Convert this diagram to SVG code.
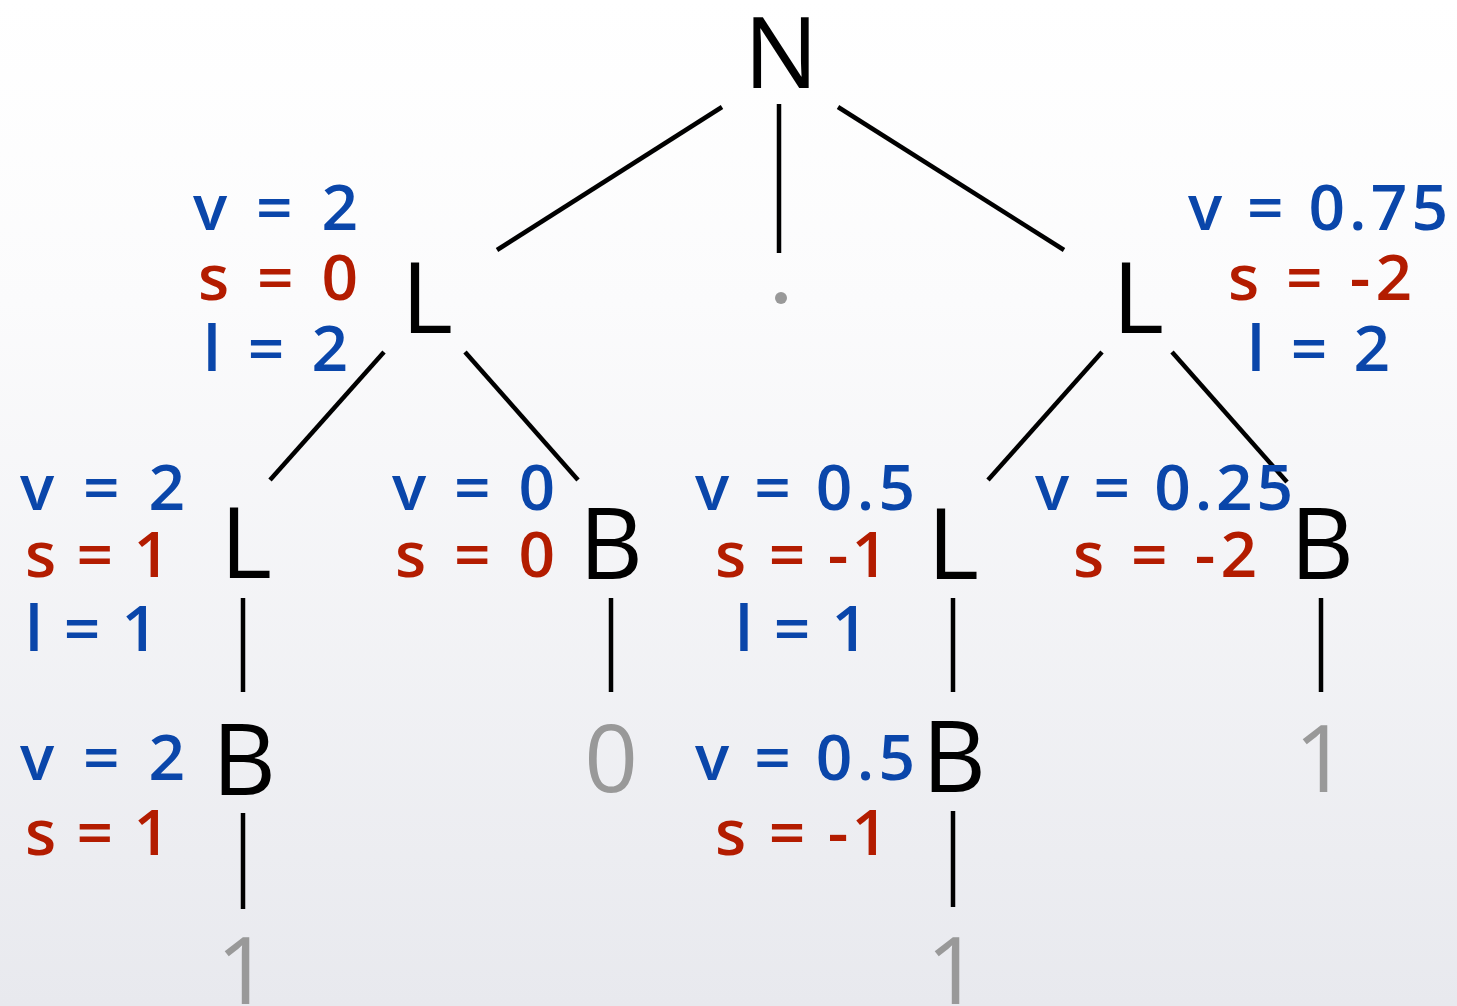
<svg xmlns="http://www.w3.org/2000/svg" width="1457" height="1006" viewBox="0 0 1457 1006">
<style>
text{font-family:"Open Sans","Lato","Liberation Sans",sans-serif;}
.n{font-size:99px;fill:#000;text-anchor:middle;}
.g{font-size:94px;fill:#999;text-anchor:middle;}
.v{font-size:64px;fill:#0a46aa;font-weight:600;}
.s{font-size:64px;fill:#b31c00;font-weight:600;}
.c line{stroke:#000;stroke-width:4.5;stroke-linecap:butt;}
</style>
<defs>
<linearGradient id="bg" x1="0" y1="0" x2="0" y2="1">
<stop offset="0" stop-color="#ffffff"/>
<stop offset="0.3" stop-color="#fbfbfc"/>
<stop offset="1" stop-color="#e8e9ee"/>
</linearGradient>
</defs>
<rect width="1457" height="1006" fill="url(#bg)"/>
<g id="connectors" class="c">
<line x1="722" y1="107" x2="497" y2="250"/>
<line x1="779" y1="104" x2="779" y2="253"/>
<line x1="838" y1="107" x2="1064" y2="250"/>
<line x1="384" y1="352" x2="270" y2="480"/>
<line x1="465" y1="352" x2="578" y2="480"/>
<line x1="1102" y1="352" x2="988" y2="480"/>
<line x1="1172" y1="352" x2="1287" y2="482"/>
<line x1="243" y1="598" x2="243" y2="692"/>
<line x1="611" y1="598" x2="611" y2="692"/>
<line x1="953" y1="598" x2="953" y2="692"/>
<line x1="1321" y1="598" x2="1321" y2="692"/>
<line x1="243" y1="813" x2="243" y2="909"/>
<line x1="953" y1="811" x2="953" y2="907"/>
</g>
<g id="node-N"><text class="n" x="781" y="88">N</text></g>
<g id="node-dot"><circle cx="781" cy="298" r="6" fill="#999"/></g>
<g id="node-L1">
<text class="n" x="427" y="333">L</text>
<text class="v" x="193" y="230" textLength="165" lengthAdjust="spacing">v = 2</text>
<text class="s" x="198" y="300" textLength="160" lengthAdjust="spacing">s = 0</text>
<text class="v" x="203" y="371" textLength="145" lengthAdjust="spacing">l = 2</text>
</g>
<g id="node-L2">
<text class="n" x="1138" y="333">L</text>
<text class="v" x="1188" y="230" textLength="260" lengthAdjust="spacing">v = 0.75</text>
<text class="s" x="1228" y="300" textLength="184" lengthAdjust="spacing">s = -2</text>
<text class="v" x="1247" y="371" textLength="143" lengthAdjust="spacing">l = 2</text>
</g>
<g id="node-L3">
<text class="n" x="246" y="578">L</text>
<text class="v" x="20" y="510" textLength="165" lengthAdjust="spacing">v = 2</text>
<text class="s" x="25" y="577" textLength="145" lengthAdjust="spacing">s = 1</text>
<text class="v" x="25" y="651" textLength="133" lengthAdjust="spacing">l = 1</text>
</g>
<g id="node-B1">
<text class="n" x="611" y="579">B</text>
<text class="v" x="392" y="510" textLength="163" lengthAdjust="spacing">v = 0</text>
<text class="s" x="395" y="577" textLength="160" lengthAdjust="spacing">s = 0</text>
</g>
<g id="node-L4">
<text class="n" x="953" y="579">L</text>
<text class="v" x="695" y="510" textLength="220" lengthAdjust="spacing">v = 0.5</text>
<text class="s" x="715" y="577" textLength="173" lengthAdjust="spacing">s = -1</text>
<text class="v" x="735" y="651" textLength="133" lengthAdjust="spacing">l = 1</text>
</g>
<g id="node-B2">
<text class="n" x="1322" y="579">B</text>
<text class="v" x="1035" y="510" textLength="258" lengthAdjust="spacing">v = 0.25</text>
<text class="s" x="1073" y="577" textLength="184" lengthAdjust="spacing">s = -2</text>
</g>
<g id="node-B3">
<text class="n" x="244" y="795">B</text>
<text class="v" x="20" y="780" textLength="165" lengthAdjust="spacing">v = 2</text>
<text class="s" x="25" y="855" textLength="145" lengthAdjust="spacing">s = 1</text>
</g>
<g id="node-0"><text class="g" x="611" y="792">0</text></g>
<g id="node-B4">
<text class="n" x="954" y="792">B</text>
<text class="v" x="695" y="780" textLength="220" lengthAdjust="spacing">v = 0.5</text>
<text class="s" x="715" y="855" textLength="173" lengthAdjust="spacing">s = -1</text>
</g>
<g id="node-1a"><text class="g" x="1321" y="792">1</text></g>
<g id="node-1b"><text class="g" x="243" y="1004">1</text></g>
<g id="node-1c"><text class="g" x="953" y="1004">1</text></g>
</svg>
